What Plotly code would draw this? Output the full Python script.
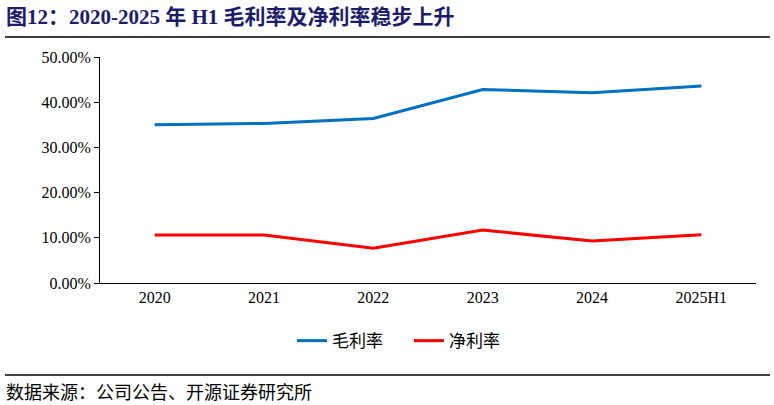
import plotly.graph_objects as go

# 数据（读取自图）
years = ["2020", "2021", "2022", "2023", "2024", "2025H1"]
gross_margin = [0.350, 0.353, 0.364, 0.428, 0.421, 0.436]
net_margin = [0.106, 0.106, 0.077, 0.117, 0.093, 0.107]

fig = go.Figure()
fig.add_trace(go.Scatter(x=years, y=gross_margin, name="毛利率", mode="lines",
                         line=dict(color="#0070C0", width=3)))
fig.add_trace(go.Scatter(x=years, y=net_margin, name="净利率", mode="lines",
                         line=dict(color="#FF0000", width=3)))

fig.update_layout(
    width=774, height=405,
    margin=dict(l=100, r=18, t=57, b=122),
    paper_bgcolor="white", plot_bgcolor="white",
    font=dict(family="Liberation Serif, Noto Sans CJK SC", size=16, color="black"),
    showlegend=True,
    legend=dict(orientation="h", x=0.471, xanchor="center", y=-0.257, yanchor="middle",
                font=dict(family="Noto Sans CJK SC", size=17), itemwidth=30,
                entrywidth=72, entrywidthmode="pixels"),
)
fig.update_xaxes(type="category", range=[-0.5, 5.5], showline=True, linecolor="black",
                 linewidth=1, ticks="", showgrid=False, tickfont=dict(size=16))
fig.update_yaxes(range=[0, 0.5], dtick=0.1, tickformat=".2%", showline=True,
                 linecolor="black", linewidth=1, ticks="outside", ticklen=5,
                 tickcolor="black", showgrid=False, zeroline=False,
                 tickfont=dict(size=16))

# 标题和分隔线
fig.add_annotation(text="<b>图12：2020-2025 年 H1 毛利率及净利率稳步上升</b>",
                   xref="paper", yref="paper", x=-96/656, y=1 + (57 - 17) / 226,
                   xanchor="left", yanchor="middle", showarrow=False,
                   font=dict(family="Liberation Serif, Noto Sans CJK SC", size=21,
                             color="#1C1C6B"))
fig.add_shape(type="line", xref="paper", yref="paper",
              x0=-95/656, x1=1 + 14/656, y0=1 + 20/226, y1=1 + 20/226,
              line=dict(color="black", width=1.5))
fig.add_shape(type="line", xref="paper", yref="paper",
              x0=-95/656, x1=1 + 14/656, y0=-92/226, y1=-92/226,
              line=dict(color="black", width=1.5))
fig.add_annotation(text="数据来源：公司公告、开源证券研究所",
                   xref="paper", yref="paper", x=-96/656, y=-108/226,
                   xanchor="left", yanchor="middle", showarrow=False,
                   font=dict(family="Noto Sans CJK SC", size=18, color="black"))

# 去掉页面默认的 body 边距，隐藏工具栏
fig.write_html("out.html", config={"displayModeBar": False},
               post_script="document.body.style.margin='0';")
